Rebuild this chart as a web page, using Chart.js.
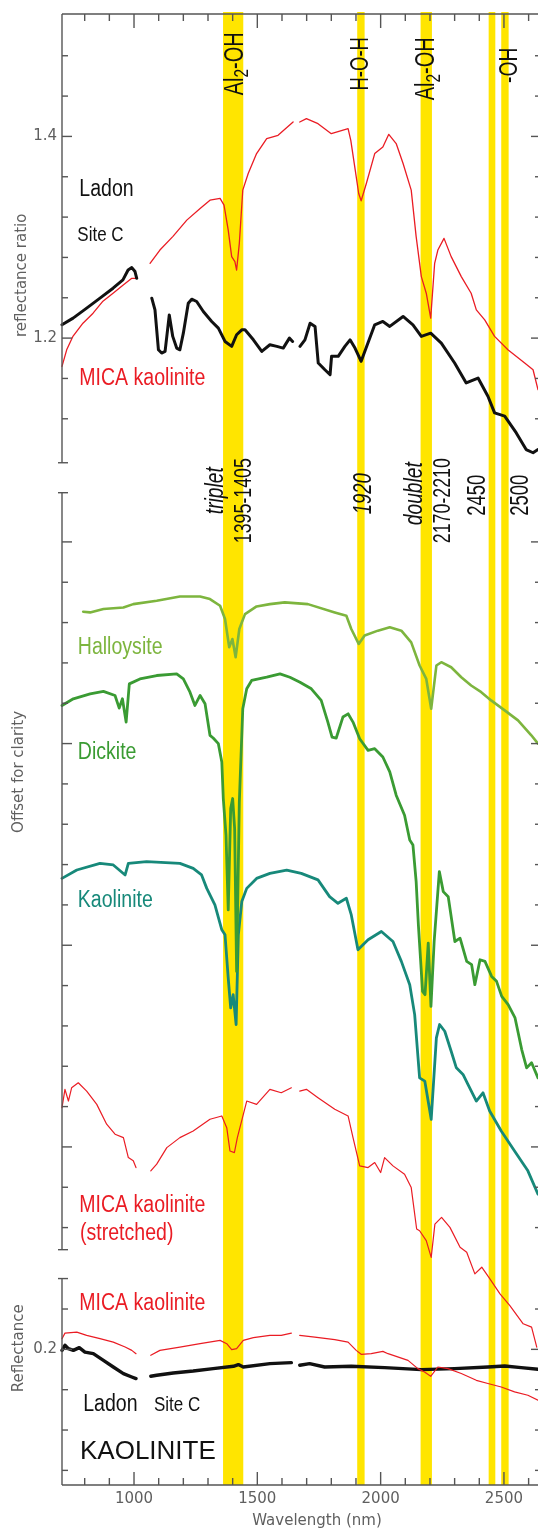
<!DOCTYPE html>
<html>
<head>
<meta charset="utf-8">
<script src="https://cdn.jsdelivr.net/npm/chart.js@4.4.1/dist/chart.umd.min.js"></script>
<style>
  html, body { margin: 0; padding: 0; background: #fff; }
  #wrap { width: 538px; height: 1535px; }
</style>
</head>
<body>
<div id="wrap"><canvas id="spectra" width="538" height="1535"></canvas></div>
<script>
// ---- data: [wavelength nm, value]; null = detector gap ----
// top panel: reflectance ratio
const ladonRatio = [
  [708,1.2132],[753,1.2198],[808,1.2297],[862,1.2396],[915,1.2495],[955,1.2577],[976,1.2675],[991,1.2699],[1004,1.2660],[1011,1.2593],[1040,null],
  [1072,1.2396],[1085,1.2280],[1099,1.1884],[1112,1.1852],[1126,1.1868],[1143,1.2230],[1157,1.2017],[1173,1.1901],[1186,1.1884],[1200,1.2049],
  [1220,1.2346],[1234,1.2386],[1254,1.2363],[1281,1.2264],[1315,1.2165],[1342,1.2099],[1369,1.1967],[1396,1.1918],[1416,1.2033],[1437,1.2082],
  [1450,1.2082],[1484,1.1983],[1518,1.1868],[1551,1.1934],[1579,1.1918],[1605,1.1901],[1630,1.2000],[1643,1.1967],[1658,null],
  [1673,1.1918],[1693,1.1983],[1714,1.2148],[1734,1.2116],[1747,1.1753],[1774,1.1686],[1795,1.1637],[1801,1.1819],[1828,1.1819],[1855,1.1918],
  [1876,1.1983],[1896,1.1901],[1921,1.1770],[1976,1.2132],[2009,1.2165],[2037,1.2116],[2091,1.2215],[2131,1.2132],[2165,1.2017],[2203,1.2049],
  [2246,1.1951],[2300,1.1753],[2347,1.1555],[2395,1.1604],[2435,1.1423],[2462,1.1258],[2503,1.1226],[2550,1.1060],[2590,1.0895],[2618,1.0863],[2638,1.0895]
];
const micaRatio = [
  [708,1.172],[727,1.1884],[753,1.202],[793,1.2148],[834,1.2247],[874,1.2366],[915,1.2445],[955,1.2524],[991,1.2593],[1011,1.2593],[1040,null],
  [1065,1.2742],[1105,1.2873],[1158,1.3009],[1214,1.317],[1268,1.3286],[1308,1.3368],[1349,1.3385],[1365,1.3318],[1382,1.3071],[1396,1.2808],
  [1409,1.2759],[1416,1.2675],[1427,1.294],[1441,1.3467],[1463,1.3632],[1497,1.383],[1538,1.3978],[1584,1.4011],[1645,1.4143],[1658,null],
  [1672,1.4143],[1699,1.4176],[1746,1.4126],[1800,1.4027],[1868,1.4077],[1879,1.3961],[1897,1.3665],[1911,1.3434],[1921,1.3362],[1942,1.3533],
  [1976,1.383],[2009,1.3896],[2033,1.4021],[2063,1.3929],[2091,1.3731],[2124,1.3467],[2144,1.3006],[2165,1.261],[2185,1.2445],[2203,1.2198],
  [2219,1.2742],[2232,1.2873],[2257,1.2989],[2286,1.2808],[2327,1.261],[2367,1.2445],[2388,1.228],[2422,1.2181],[2462,1.2017],[2516,1.1884],
  [2584,1.1753],[2618,1.1686],[2638,1.1489]
];

// middle panel: library spectra, offset for clarity
const halloysite = [
  [794,0.5308],[822,0.5301],[876,0.5334],[957,0.5350],[997,0.5383],[1092,0.5417],[1186,0.5459],[1268,0.5459],[1308,0.5433],[1349,0.5367],
  [1369,0.5235],[1386,0.4955],[1399,0.5037],[1412,0.4856],[1427,0.5136],[1450,0.5284],[1497,0.5360],[1551,0.5383],[1611,0.5400],[1705,0.5383],
  [1814,0.5301],[1861,0.5268],[1881,0.5136],[1911,0.4988],[1935,0.5071],[1989,0.5120],[2037,0.5153],[2084,0.5120],[2124,0.5004],[2158,0.4774],
  [2185,0.4641],[2205,0.4345],[2226,0.4774],[2246,0.4807],[2286,0.4757],[2327,0.4658],[2367,0.4576],[2408,0.4510],[2448,0.4428],[2503,0.4329],
  [2557,0.4230],[2611,0.4082],[2638,0.3999]
];
const dickite = [
  [708,0.4378],[754,0.4444],[822,0.4493],[876,0.4517],[923,0.4477],[940,0.4352],[953,0.4444],[968,0.4213],[981,0.4592],[1024,0.4641],
  [1092,0.4675],[1173,0.4691],[1200,0.4641],[1227,0.4510],[1247,0.4378],[1268,0.4477],[1288,0.4395],[1308,0.4082],[1321,0.4055],[1342,0.3999],
  [1356,0.3817],[1362,0.3455],[1373,0.3093],[1382,0.2351],[1392,0.3356],[1400,0.3455],[1408,0.3158],[1416,0.1741],[1427,0.3422],[1441,0.4345],
  [1457,0.4543],[1477,0.4626],[1538,0.4658],[1592,0.4691],[1632,0.4658],[1673,0.4609],[1719,0.4543],[1759,0.4428],[1786,0.4213],[1803,0.4065],
  [1820,0.4055],[1847,0.4263],[1868,0.4295],[1888,0.4213],[1915,0.4048],[1949,0.3933],[1976,0.3949],[2009,0.3867],[2037,0.3719],[2063,0.3488],
  [2097,0.3290],[2118,0.3043],[2131,0.2994],[2144,0.2631],[2153,0.2203],[2170,0.1543],[2180,0.1510],[2193,0.2021],[2204,0.1394],[2217,0.2037],
  [2238,0.2730],[2254,0.2532],[2274,0.2482],[2301,0.2037],[2322,0.2070],[2349,0.1840],[2369,0.1807],[2382,0.1609],[2403,0.1856],[2423,0.1840],
  [2450,0.1691],[2470,0.1642],[2491,0.1493],[2517,0.1411],[2545,0.1279],[2572,0.0966],[2592,0.0784],[2612,0.0835],[2638,0.0685]
];
const kaolinite = [
  [708,0.2663],[768,0.2746],[862,0.2812],[916,0.2796],[964,0.2697],[977,0.2812],[1051,0.2829],[1186,0.2812],[1240,0.2762],[1274,0.2697],
  [1295,0.2564],[1328,0.2400],[1356,0.2153],[1369,0.2104],[1382,0.1674],[1392,0.1378],[1402,0.1510],[1414,0.1214],[1423,0.2104],[1437,0.2433],
  [1457,0.2564],[1497,0.2663],[1551,0.2713],[1619,0.2746],[1678,0.2713],[1746,0.2648],[1793,0.2482],[1827,0.2416],[1861,0.2466],[1881,0.2301],
  [1908,0.1955],[1949,0.2054],[2003,0.2136],[2050,0.2037],[2084,0.1840],[2118,0.1609],[2138,0.1312],[2158,0.0685],[2179,0.0653],[2205,0.0274],
  [2226,0.1081],[2239,0.1214],[2260,0.1147],[2286,0.0949],[2307,0.0784],[2334,0.0719],[2354,0.0620],[2388,0.0455],[2415,0.0537],[2442,0.0356],
  [2489,0.0158],[2543,-0.0040],[2597,-0.0237],[2638,-0.0468]
];
const micaStretched = [
  [708,0.0389],[720,0.0571],[734,0.0455],[747,0.0586],[774,0.0636],[808,0.0554],[849,0.0422],[889,0.0225],[923,0.0126],[957,0.0092],
  [977,-0.0106],[997,-0.0138],[1008,-0.0205],[1040,null],
  [1068,-0.0237],[1092,-0.0171],[1133,-0.0007],[1186,0.0092],[1240,0.0158],[1308,0.0274],[1356,0.0307],[1376,0.0191],[1389,-0.0040],[1407,-0.0056],
  [1419,0.0092],[1457,0.0455],[1497,0.0422],[1551,0.0571],[1597,0.0537],[1638,0.0586],[1655,null],
  [1672,0.0554],[1699,0.0571],[1746,0.0488],[1814,0.0373],[1868,0.0307],[1888,0.0092],[1915,-0.0188],[1949,-0.0205],[1976,-0.0155],[2000,-0.0254],
  [2016,-0.0106],[2050,-0.0188],[2097,-0.0270],[2124,-0.0403],[2146,-0.0814],[2158,-0.0831],[2185,-0.0930],[2205,-0.1095],[2220,-0.0765],[2247,-0.0699],
  [2281,-0.0798],[2322,-0.0996],[2349,-0.1045],[2382,-0.1259],[2410,-0.1193],[2443,-0.1308],[2484,-0.1457],[2524,-0.1573],[2578,-0.1754],[2612,-0.1787],
  [2633,-0.1985]
];

// bottom panel: reflectance
const micaRefl = [
  [708,0.2106],[720,0.2161],[768,0.2171],[808,0.2138],[862,0.2106],[916,0.2072],[964,0.2023],[991,0.1990],[1008,0.1957],[1040,null],
  [1068,0.1941],[1105,0.1990],[1186,0.2023],[1268,0.2056],[1349,0.2089],[1376,0.2056],[1396,0.1997],[1416,0.2007],[1443,0.2089],[1484,0.2116],
  [1551,0.2138],[1597,0.2138],[1638,0.2161],[1655,null],
  [1672,0.2138],[1733,0.2122],[1814,0.2096],[1868,0.2072],[1901,0.1990],[1921,0.1951],[1962,0.1957],[2009,0.1980],[2030,0.1957],[2111,0.1891],
  [2151,0.1809],[2178,0.1775],[2203,0.1733],[2232,0.1825],[2273,0.1809],[2327,0.1760],[2388,0.1693],[2435,0.1661],[2489,0.1627],[2543,0.1578],
  [2597,0.1545],[2638,0.1496]
];
const ladonRefl = [
  [708,0.1990],[720,0.2040],[734,0.2007],[754,0.1990],[778,0.2017],[801,0.1973],[835,0.1957],[876,0.1891],[916,0.1825],[957,0.1760],
  [991,0.1726],[1008,0.1710],[1040,null],
  [1068,0.1733],[1092,0.1743],[1159,0.1766],[1240,0.1785],[1321,0.1809],[1403,0.1832],[1423,0.1849],[1443,0.1825],[1551,0.1859],[1638,0.1868],[1655,null],
  [1672,0.1842],[1712,0.1859],[1773,0.1825],[1881,0.1832],[2016,0.1819],[2165,0.1799],[2300,0.1809],[2435,0.1825],[2503,0.1835],[2570,0.1819],
  [2638,0.1802]
];

// absorption bands (nm)
const bandStart = [1361, 1905, 2162, 2438, 2489];
const bandEnd   = [1443, 1935, 2208, 2465, 2519];

// ticks
const xTicks  = [800, 900, 1000, 1100, 1200, 1300, 1400, 1500, 1600, 1700, 1800, 1900, 2000, 2100, 2200, 2300, 2400, 2500, 2600];
const xMajor  = [1000, 1500, 2000, 2500];
const topTicks = [1.12, 1.16, 1.2, 1.24, 1.28, 1.32, 1.36, 1.4, 1.44, 1.48];
const topMajor = [1.2, 1.4];
const midTicks = [-0.08, -0.04, 0, 0.04, 0.08, 0.12, 0.16, 0.2, 0.24, 0.28, 0.32, 0.36, 0.4, 0.44, 0.48, 0.52, 0.56, 0.6];
const midMajor = [0, 0.2, 0.4, 0.6];
const botTicks = [0.08, 0.12, 0.16, 0.2, 0.24];
const botMajor = [0.2];

// ---- styles ----
const RED = '#ea1c24';
const BLACK = '#111111';
const HALLOY = '#7db53e';
const DICK = '#3a9b33';
const KAOL = '#17897a';
const BAND = '#ffe500';
const AXIS = '#555555';
const GREY_TEXT = '#5f5f5f';
const LABEL_FONT = '"Liberation Sans", Arial, sans-serif';

const panels = [
  { axis: 'yTop', lo: 1.0764, hi: 1.5214, ticks: topTicks, major: topMajor, topAxis: true },
  { axis: 'yMid', lo: -0.1019, hi: 0.6488, ticks: midTicks, major: midMajor },
  { axis: 'yBot', lo: 0.0655, hi: 0.2702, ticks: botTicks, major: botMajor, bottomAxis: true }
];

const plotLabels = [
  { text: 'Ladon', axis: 'yTop', wl: 778, v: 1.3407, color: BLACK, size: 23 },
  { text: 'Site C', axis: 'yTop', wl: 770, v: 1.2966, color: BLACK, size: 20 },
  { text: 'MICA kaolinite', axis: 'yTop', wl: 778, v: 1.1538, color: RED, size: 23 },
  { text: 'Halloysite', axis: 'yMid', wl: 772, v: 0.4889, color: HALLOY, size: 23 },
  { text: 'Dickite', axis: 'yMid', wl: 772, v: 0.3850, color: DICK, size: 23 },
  { text: 'Kaolinite', axis: 'yMid', wl: 772, v: 0.2383, color: KAOL, size: 23 },
  { text: 'MICA kaolinite', axis: 'yMid', wl: 778, v: -0.0650, color: RED, size: 23 },
  { text: '(stretched)', axis: 'yMid', wl: 781, v: -0.0923, color: RED, size: 23 },
  { text: 'MICA kaolinite', axis: 'yBot', wl: 778, v: 0.2386, color: RED, size: 23 },
  { text: 'Ladon', axis: 'yBot', wl: 794, v: 0.1390, color: BLACK, size: 23 },
  { text: 'Site C', axis: 'yBot', wl: 1081, v: 0.1390, color: BLACK, size: 20 },
  { text: 'KAOLINITE', axis: 'yBot', wl: 781, v: 0.0909, color: BLACK, size: 26, squeeze: 1 }
];

const bandLabels = [
  { parts: [['Al'], ['2', 'sub'], ['-OH']], axis: 'yTop', wl: 1401, v: 1.472, size: 27 },
  { parts: [['H-O-H']], axis: 'yTop', wl: 1911, v: 1.472 },
  { parts: [['Al'], ['2', 'sub'], ['-OH']], axis: 'yTop', wl: 2178, v: 1.467, size: 27 },
  { parts: [['-OH']], axis: 'yTop', wl: 2516, v: 1.4705, size: 26 },
  { parts: [['triplet']], italic: true, axis: 'yMid', wl: 1324, v: 0.6508, size: 26 },
  { parts: [['1395-1405']], axis: 'yMid', wl: 1438, v: 0.6409, size: 24 },
  { parts: [['1920']], italic: true, axis: 'yMid', wl: 1923, v: 0.6478 },
  { parts: [['doublet']], italic: true, axis: 'yMid', wl: 2131, v: 0.6478, size: 26 },
  { parts: [['2170-2210']], axis: 'yMid', wl: 2245, v: 0.6409, size: 24 },
  { parts: [['2450']], axis: 'yMid', wl: 2386, v: 0.6463 },
  { parts: [['2500']], axis: 'yMid', wl: 2561, v: 0.6463 }
];

const axisTitles = [
  { text: 'reflectance ratio', axis: 'yTop', v: 1.2623, dx: -40 },
  { text: 'Offset for clarity', axis: 'yMid', v: 0.3719, dx: -43 },
  { text: 'Reflectance', axis: 'yBot', v: 0.201, dx: -43 }
];

function spectrum(points, axis, color, width) {
  return {
    data: points.map(p => ({ x: p[0], y: p[1] })),
    xAxisID: 'x',
    yAxisID: axis,
    borderColor: color,
    borderWidth: width,
    pointRadius: 0,
    spanGaps: false,
    clip: false,
    fill: false
  };
}

const datasets = [
  spectrum(ladonRatio, 'yTop', BLACK, 3),
  spectrum(micaRatio, 'yTop', RED, 1.3),
  spectrum(halloysite, 'yMid', HALLOY, 2.6),
  spectrum(dickite, 'yMid', DICK, 2.8),
  spectrum(kaolinite, 'yMid', KAOL, 2.8),
  spectrum(micaStretched, 'yMid', RED, 1.2),
  spectrum(micaRefl, 'yBot', RED, 1.2),
  spectrum(ladonRefl, 'yBot', BLACK, 3.4)
];

function nearIn(list, v) {
  return list.some(m => Math.abs(m - v) < 1e-6);
}

const bandsPlugin = {
  id: 'bands',
  beforeDatasetsDraw(chart) {
    const { ctx, chartArea, scales } = chart;
    ctx.save();
    ctx.fillStyle = BAND;
    bandStart.forEach((s, i) => {
      const x0 = scales.x.getPixelForValue(s);
      const x1 = scales.x.getPixelForValue(bandEnd[i]);
      ctx.fillRect(x0, chartArea.top - 2, x1 - x0, chartArea.bottom - chartArea.top + 2);
    });
    ctx.restore();
  }
};

const framePlugin = {
  id: 'frame',
  afterDatasetsDraw(chart) {
    const { ctx, chartArea: a, scales } = chart;
    const xs = scales.x;
    const seg = (x1, y1, x2, y2) => { ctx.beginPath(); ctx.moveTo(x1, y1); ctx.lineTo(x2, y2); ctx.stroke(); };
    ctx.save();
    ctx.strokeStyle = AXIS;
    ctx.lineWidth = 1.4;

    panels.forEach(p => {
      const s = scales[p.axis];
      const yLo = s.getPixelForValue(p.lo);
      const yHi = s.getPixelForValue(p.hi);
      seg(a.left, yLo, a.left, yHi);
      if (!p.topAxis) seg(a.left - 4, yHi, a.left + 6, yHi);
      if (!p.bottomAxis) seg(a.left - 4, yLo, a.left + 6, yLo);
      p.ticks.forEach(v => {
        const y = s.getPixelForValue(v);
        const big = nearIn(p.major, v);
        seg(a.left, y, a.left + (big ? 10 : 6), y);
        seg(a.right + 1, y, a.right + 1 - (big ? 7 : 3), y);
      });
      if (p.topAxis) {
        seg(a.left, yHi, a.right + 1, yHi);
        xTicks.forEach(v => {
          const x = xs.getPixelForValue(v);
          seg(x, yHi, x, yHi + (nearIn(xMajor, v) ? 14 : 7));
        });
      }
      if (p.bottomAxis) {
        seg(a.left, yLo, a.right + 1, yLo);
        xTicks.forEach(v => {
          const x = xs.getPixelForValue(v);
          seg(x, yLo, x, yLo - (nearIn(xMajor, v) ? 13 : 7));
        });
      }
    });
    ctx.restore();

    // labels inside the plot
    plotLabels.forEach(l => {
      const x = xs.getPixelForValue(l.wl);
      const y = scales[l.axis].getPixelForValue(l.v);
      ctx.save();
      ctx.translate(x, y);
      ctx.scale(l.squeeze || 0.85, 1);
      ctx.font = l.size + 'px ' + LABEL_FONT;
      ctx.fillStyle = l.color;
      ctx.textBaseline = 'alphabetic';
      ctx.textAlign = 'left';
      ctx.fillText(l.text, 0, 0);
      ctx.restore();
    });

    // rotated band labels
    bandLabels.forEach(l => {
      const size = l.size || 25;
      const cx = xs.getPixelForValue(l.wl);
      const cy = scales[l.axis].getPixelForValue(l.v);
      ctx.save();
      ctx.translate(cx, cy);
      ctx.rotate(-Math.PI / 2);
      ctx.scale(0.74, 1);
      ctx.fillStyle = BLACK;
      ctx.textBaseline = 'alphabetic';
      const fontFor = part => (l.italic ? 'italic ' : '') + (part[1] === 'sub' ? Math.round(size * 0.78) : size) + 'px ' + LABEL_FONT;
      let total = 0;
      const widths = l.parts.map(part => {
        ctx.font = fontFor(part);
        const w = ctx.measureText(part[0]).width;
        total += w;
        return w;
      });
      let tx = -total / 2;
      l.parts.forEach((part, i) => {
        ctx.font = fontFor(part);
        ctx.fillText(part[0], tx, size * 0.36 + (part[1] === 'sub' ? size * 0.2 : 0));
        tx += widths[i];
      });
      ctx.restore();
    });

    // axis titles
    ctx.save();
    ctx.fillStyle = GREY_TEXT;
    ctx.font = '15px "DejaVu Sans", sans-serif';
    ctx.textAlign = 'center';
    ctx.textBaseline = 'middle';
    axisTitles.forEach(t => {
      const y = scales[t.axis].getPixelForValue(t.v);
      ctx.save();
      ctx.translate(a.left + t.dx, y);
      ctx.rotate(-Math.PI / 2);
      ctx.fillText(t.text, 0, 0);
      ctx.restore();
    });
    ctx.font = '15px "DejaVu Sans", sans-serif';
    ctx.fillText('Wavelength (nm)', xs.getPixelForValue(1742), a.bottom + 36);
    ctx.restore();
  }
};

const yCommon = {
  type: 'linear',
  position: 'left',
  stack: 'panels',
  grid: { display: false, drawTicks: false },
  border: { display: false },
  afterFit: s => { s.width = 62; },
  ticks: {
    autoSkip: false,
    padding: 5,
    color: GREY_TEXT,
    font: { size: 15, family: '"DejaVu Sans", sans-serif' },
    callback: v => Number(v).toFixed(1)
  }
};

new Chart(document.getElementById('spectra'), {
  type: 'line',
  data: { datasets },
  options: {
    responsive: false,
    animation: false,
    devicePixelRatio: 1,
    layout: { padding: { top: 10, right: 1, left: 0, bottom: 0 } },
    plugins: { legend: { display: false }, tooltip: { enabled: false } },
    elements: { line: { tension: 0, borderJoinStyle: 'round', borderCapStyle: 'round' } },
    scales: {
      x: {
        type: 'linear',
        position: 'bottom',
        min: 708,
        max: 2634,
        grid: { display: false, drawTicks: false },
        border: { display: false },
        afterBuildTicks: s => { s.ticks = xMajor.map(v => ({ value: v })); },
        afterFit: s => { s.height = 50; },
        ticks: {
          autoSkip: false,
          maxRotation: 0,
          padding: 5,
          color: GREY_TEXT,
          font: { size: 15, family: '"DejaVu Sans", sans-serif' },
          callback: v => String(v)
        }
      },
      yBot: Object.assign({}, yCommon, {
        min: 0.0655, max: 0.2702, stackWeight: 207, weight: 1,
        afterBuildTicks: s => { s.ticks = botMajor.map(v => ({ value: v })); }
      }),
      yMid: Object.assign({}, yCommon, {
        min: -0.13055, max: 0.6488, stackWeight: 788, weight: 2,
        ticks: Object.assign({}, yCommon.ticks, { display: false }),
        afterBuildTicks: s => { s.ticks = []; }
      }),
      yTop: Object.assign({}, yCommon, {
        min: 1.0467, max: 1.5214, stackWeight: 480, weight: 3,
        afterBuildTicks: s => { s.ticks = topMajor.map(v => ({ value: v })); }
      })
    }
  },
  plugins: [bandsPlugin, framePlugin]
});
</script>
</body>
</html>
